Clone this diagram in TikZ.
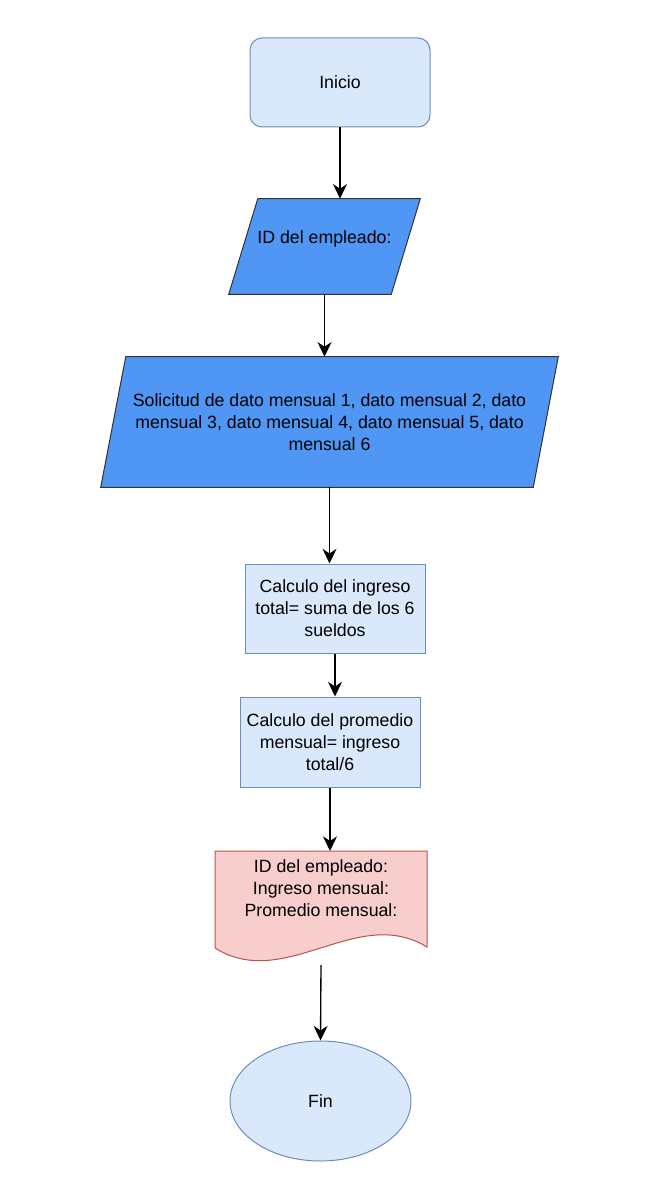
\documentclass[tikz,border=0pt]{standalone}
\usepackage{fontspec}
\setmainfont{Liberation Sans}
\usetikzlibrary{shapes.geometric,arrows.meta,backgrounds}
\definecolor{azulclaro}{HTML}{DAE8FC}
\definecolor{bordeazul}{HTML}{6C8EBF}
\definecolor{azul}{HTML}{5096F5}
\definecolor{rosa}{HTML}{F8CECC}
\definecolor{borderojo}{HTML}{B85450}

\begin{document}
\begin{tikzpicture}[x=0.75pt,y=-0.75pt,
    font=\fontsize{13.3}{16.5}\selectfont,
    caja/.style={draw=bordeazul,fill=azulclaro,line width=0.75pt,minimum width=135pt,minimum height=66.75pt,align=center,inner sep=0pt},
    entrada/.style={align=center,inner sep=0pt},
    borde/.style={draw=black!80,fill=azul,line width=0.75pt},
    flecha/.style={-{Stealth[length=11pt,width=10.5pt,inset=3.5pt]},line width=1pt}]
    \useasboundingbox (0,0) rectangle (668,1180);
    \node[caja,rounded corners=9pt] (inicio) at (340,82.5) {Inicio};
    \node[entrada,minimum width=143.25pt,minimum height=71.25pt] (id) at (324.5,246.5) {\raisebox{2.3pt}[0pt][0pt]{ID del empleado:}};
    \node[entrada,minimum width=342.75pt,minimum height=97.5pt] (datos) at (329.5,422) {Solicitud de dato mensual 1, dato mensual 2, dato\\mensual 3, dato mensual 4, dato mensual 5, dato\\mensual 6};
    \begin{scope}[on background layer]
        \draw[borde] (id.south west) -- ([xshift=21.75pt]id.north west) -- (id.north east) -- ([xshift=-21.75pt]id.south east) -- cycle;
        \draw[borde] (datos.south west) -- ([xshift=18.75pt]datos.north west) -- (datos.north east) -- ([xshift=-18.75pt]datos.south east) -- cycle;
    \end{scope}
    \node[caja] (ingreso) at (335,608.5) {Calculo del ingreso\\total= suma de los 6\\sueldos};
    \node[caja,minimum height=67.5pt] (promedio) at (330,742) {Calculo del promedio\\mensual= ingreso\\total/6};
    \draw[borderojo,fill=rosa,line width=0.75pt] (215,851) -- (427,851) -- (427,947)
        .. controls (357,904) and (285,992) .. (215,948) -- cycle;
    \coordinate (docarriba) at (321,851);
    \coordinate (docabajo) at (321,965);
    \node[align=center] (salida) at (321,888) {ID del empleado:\\Ingreso mensual:\\Promedio mensual:};
    \node[ellipse,draw=bordeazul,fill=azulclaro,line width=0.75pt,minimum width=135.75pt,minimum height=90pt] (fin) at (320.5,1101) {Fin};
    \draw[flecha] (inicio.south) -- (inicio.south |- id.north);
    \draw[flecha] (id.south) -- (id.south |- datos.north);
    \draw[flecha] (datos.south) -- (datos.south |- ingreso.north);
    \draw[flecha] (ingreso.south) -- (ingreso.south |- promedio.north);
    \draw[flecha] (promedio.south) -- (promedio.south |- docarriba);
    \draw[flecha] (docabajo) -- (fin.north);
\end{tikzpicture}
\end{document}
